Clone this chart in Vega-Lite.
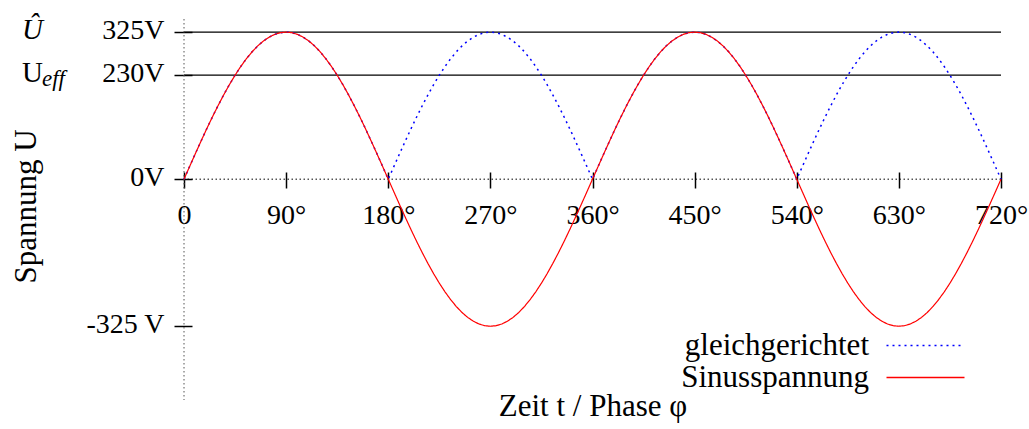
{
  "$schema": "https://vega.github.io/schema/vega-lite/v6.json",
  "autosize": {"type": "none"},
  "padding": {"left": 184, "top": 19, "right": 28, "bottom": 29},
  "width": 817,
  "height": 381,
  "background": "white",
  "config": {"view": {"stroke": null}, "font": "Liberation Serif"},
  "datasets": {
    "wave": [
{"p":0,"s":0,"g":0},{"p":5,"s":28.3,"g":28.3},{"p":10,"s":56.4,"g":56.4},{"p":15,"s":84.1,"g":84.1},{"p":20,"s":111.2,"g":111.2},{"p":25,"s":137.4,"g":137.4},{"p":30,"s":162.5,"g":162.5},{"p":35,"s":186.4,"g":186.4},{"p":40,"s":208.9,"g":208.9},{"p":45,"s":229.8,"g":229.8},{"p":50,"s":249,"g":249},{"p":55,"s":266.2,"g":266.2},{"p":60,"s":281.5,"g":281.5},{"p":65,"s":294.6,"g":294.6},{"p":70,"s":305.4,"g":305.4},{"p":75,"s":313.9,"g":313.9},{"p":80,"s":320.1,"g":320.1},{"p":85,"s":323.8,"g":323.8},{"p":90,"s":325,"g":325},{"p":95,"s":323.8,"g":323.8},{"p":100,"s":320.1,"g":320.1},{"p":105,"s":313.9,"g":313.9},{"p":110,"s":305.4,"g":305.4},{"p":115,"s":294.6,"g":294.6},{"p":120,"s":281.5,"g":281.5},{"p":125,"s":266.2,"g":266.2},{"p":130,"s":249,"g":249},{"p":135,"s":229.8,"g":229.8},{"p":140,"s":208.9,"g":208.9},{"p":145,"s":186.4,"g":186.4},{"p":150,"s":162.5,"g":162.5},{"p":155,"s":137.4,"g":137.4},{"p":160,"s":111.2,"g":111.2},{"p":165,"s":84.1,"g":84.1},{"p":170,"s":56.4,"g":56.4},{"p":175,"s":28.3,"g":28.3},
{"p":180,"s":0,"g":0},{"p":185,"s":-28.3,"g":28.3},{"p":190,"s":-56.4,"g":56.4},{"p":195,"s":-84.1,"g":84.1},{"p":200,"s":-111.2,"g":111.2},{"p":205,"s":-137.4,"g":137.4},{"p":210,"s":-162.5,"g":162.5},{"p":215,"s":-186.4,"g":186.4},{"p":220,"s":-208.9,"g":208.9},{"p":225,"s":-229.8,"g":229.8},{"p":230,"s":-249,"g":249},{"p":235,"s":-266.2,"g":266.2},{"p":240,"s":-281.5,"g":281.5},{"p":245,"s":-294.6,"g":294.6},{"p":250,"s":-305.4,"g":305.4},{"p":255,"s":-313.9,"g":313.9},{"p":260,"s":-320.1,"g":320.1},{"p":265,"s":-323.8,"g":323.8},{"p":270,"s":-325,"g":325},{"p":275,"s":-323.8,"g":323.8},{"p":280,"s":-320.1,"g":320.1},{"p":285,"s":-313.9,"g":313.9},{"p":290,"s":-305.4,"g":305.4},{"p":295,"s":-294.6,"g":294.6},{"p":300,"s":-281.5,"g":281.5},{"p":305,"s":-266.2,"g":266.2},{"p":310,"s":-249,"g":249},{"p":315,"s":-229.8,"g":229.8},{"p":320,"s":-208.9,"g":208.9},{"p":325,"s":-186.4,"g":186.4},{"p":330,"s":-162.5,"g":162.5},{"p":335,"s":-137.4,"g":137.4},{"p":340,"s":-111.2,"g":111.2},{"p":345,"s":-84.1,"g":84.1},{"p":350,"s":-56.4,"g":56.4},{"p":355,"s":-28.3,"g":28.3},
{"p":360,"s":0,"g":0},{"p":365,"s":28.3,"g":28.3},{"p":370,"s":56.4,"g":56.4},{"p":375,"s":84.1,"g":84.1},{"p":380,"s":111.2,"g":111.2},{"p":385,"s":137.4,"g":137.4},{"p":390,"s":162.5,"g":162.5},{"p":395,"s":186.4,"g":186.4},{"p":400,"s":208.9,"g":208.9},{"p":405,"s":229.8,"g":229.8},{"p":410,"s":249,"g":249},{"p":415,"s":266.2,"g":266.2},{"p":420,"s":281.5,"g":281.5},{"p":425,"s":294.6,"g":294.6},{"p":430,"s":305.4,"g":305.4},{"p":435,"s":313.9,"g":313.9},{"p":440,"s":320.1,"g":320.1},{"p":445,"s":323.8,"g":323.8},{"p":450,"s":325,"g":325},{"p":455,"s":323.8,"g":323.8},{"p":460,"s":320.1,"g":320.1},{"p":465,"s":313.9,"g":313.9},{"p":470,"s":305.4,"g":305.4},{"p":475,"s":294.6,"g":294.6},{"p":480,"s":281.5,"g":281.5},{"p":485,"s":266.2,"g":266.2},{"p":490,"s":249,"g":249},{"p":495,"s":229.8,"g":229.8},{"p":500,"s":208.9,"g":208.9},{"p":505,"s":186.4,"g":186.4},{"p":510,"s":162.5,"g":162.5},{"p":515,"s":137.4,"g":137.4},{"p":520,"s":111.2,"g":111.2},{"p":525,"s":84.1,"g":84.1},{"p":530,"s":56.4,"g":56.4},{"p":535,"s":28.3,"g":28.3},
{"p":540,"s":0,"g":0},{"p":545,"s":-28.3,"g":28.3},{"p":550,"s":-56.4,"g":56.4},{"p":555,"s":-84.1,"g":84.1},{"p":560,"s":-111.2,"g":111.2},{"p":565,"s":-137.4,"g":137.4},{"p":570,"s":-162.5,"g":162.5},{"p":575,"s":-186.4,"g":186.4},{"p":580,"s":-208.9,"g":208.9},{"p":585,"s":-229.8,"g":229.8},{"p":590,"s":-249,"g":249},{"p":595,"s":-266.2,"g":266.2},{"p":600,"s":-281.5,"g":281.5},{"p":605,"s":-294.6,"g":294.6},{"p":610,"s":-305.4,"g":305.4},{"p":615,"s":-313.9,"g":313.9},{"p":620,"s":-320.1,"g":320.1},{"p":625,"s":-323.8,"g":323.8},{"p":630,"s":-325,"g":325},{"p":635,"s":-323.8,"g":323.8},{"p":640,"s":-320.1,"g":320.1},{"p":645,"s":-313.9,"g":313.9},{"p":650,"s":-305.4,"g":305.4},{"p":655,"s":-294.6,"g":294.6},{"p":660,"s":-281.5,"g":281.5},{"p":665,"s":-266.2,"g":266.2},{"p":670,"s":-249,"g":249},{"p":675,"s":-229.8,"g":229.8},{"p":680,"s":-208.9,"g":208.9},{"p":685,"s":-186.4,"g":186.4},{"p":690,"s":-162.5,"g":162.5},{"p":695,"s":-137.4,"g":137.4},{"p":700,"s":-111.2,"g":111.2},{"p":705,"s":-84.1,"g":84.1},{"p":710,"s":-56.4,"g":56.4},{"p":715,"s":-28.3,"g":28.3},
{"p":720,"s":0,"g":0}
    ]
  },
  "layer": [
    {
      "data": {"values": [{"v": 325}, {"v": 230}]},
      "mark": {"type": "rule", "color": "black", "strokeWidth": 1.3},
      "encoding": {
        "y": {"field": "v", "type": "quantitative",
              "scale": {"domain": [-488, 354], "nice": false, "zero": false},
              "axis": {
                "orient": "left", "offset": -8, "domain": false, "grid": false,
                "ticks": true, "tickSize": 18, "tickWidth": 1.5, "tickColor": "black",
                "values": [325, 230, 0, -325],
                "labelExpr": "datum.value == -325 ? '-325 V' : datum.value + 'V'",
                "labelFont": "Liberation Serif", "labelFontSize": 28, "labelColor": "black",
                "labelPadding": 10, "labelOffset": -2, "labelOverlap": false,
                "title": "Spannung U", "titleFont": "Liberation Serif", "titleFontSize": 31,
                "titleFontWeight": "normal", "titleColor": "black",
                "titleX": -166, "titleY": 187, "titleBaseline": "middle", "titleAngle": -90
              }}
      }
    },
    {
      "data": {"values": [{"v": 0}]},
      "mark": {"type": "rule", "color": "black", "strokeWidth": 1, "strokeDash": [1.5, 2.5]},
      "encoding": {"y": {"field": "v", "type": "quantitative"}}
    },
    {
      "data": {"values": [{"p": 0}]},
      "mark": {"type": "rule", "color": "#555555", "strokeWidth": 1, "strokeDash": [1.5, 2.5]},
      "encoding": {
        "x": {"field": "p", "type": "quantitative",
              "scale": {"domain": [0, 720], "nice": false, "zero": false},
              "axis": {
                "orient": "bottom", "offset": -228, "domain": false, "grid": false,
                "ticks": true, "tickSize": 16, "tickWidth": 1.5, "tickColor": "black",
                "values": [0, 90, 180, 270, 360, 450, 540, 630, 720],
                "labelExpr": "datum.value == 0 ? '0' : datum.value + '°'",
                "labelFont": "Liberation Serif", "labelFontSize": 28, "labelColor": "black",
                "labelPadding": 13, "labelFlush": false, "labelOverlap": false,
                "title": "Zeit t / Phase φ", "titleFont": "Liberation Serif", "titleFontSize": 31,
                "titleFontWeight": "normal", "titleColor": "black",
                "titleY": 243, "titleBaseline": "alphabetic"
              }}
      }
    },
    {
      "data": {"name": "wave"},
      "transform": [{"fold": ["g", "s"], "as": ["serie", "u"]}, {"filter": "datum.serie == 'g'"}],
      "mark": {"type": "line", "strokeWidth": 1.5},
      "encoding": {
        "x": {"field": "p", "type": "quantitative"},
        "y": {"field": "u", "type": "quantitative"},
        "color": {"field": "serie", "type": "nominal",
                  "scale": {"domain": ["g", "s"], "range": ["#0000ff", "#ff0000"]},
                  "legend": {"orient": "none", "legendX": 726, "legendY": 311, "title": null,
                             "symbolType": "M-3.9,0H3.9", "symbolSize": 400, "symbolStrokeWidth": 1.4,
                             "labelFont": "Liberation Serif", "labelFontSize": 31, "labelColor": "black",
                             "labelAlign": "right", "labelOffset": -72, "labelLimit": 500,
                             "rowPadding": 0, "padding": 0,
                             "labelExpr": "datum.label == 'g' ? 'gleichgerichtet' : 'Sinusspannung'"}},
        "strokeDash": {"field": "serie", "type": "nominal",
                       "scale": {"domain": ["g", "s"], "range": [[2, 4], [1, 0]]}}
      }
    },
    {
      "data": {"name": "wave"},
      "transform": [{"fold": ["g", "s"], "as": ["serie", "u"]}, {"filter": "datum.serie == 's'"}],
      "mark": {"type": "line", "strokeWidth": 1.2},
      "encoding": {
        "x": {"field": "p", "type": "quantitative"},
        "y": {"field": "u", "type": "quantitative"},
        "color": {"field": "serie", "type": "nominal",
                  "scale": {"domain": ["g", "s"], "range": ["#0000ff", "#ff0000"]}},
        "strokeDash": {"field": "serie", "type": "nominal",
                       "scale": {"domain": ["g", "s"], "range": [[2, 4], [1, 0]]}}
      }
    },
    {
      "data": {"values": [{"p": 0, "v": 325, "t": "Û"}]},
      "mark": {"type": "text", "font": "Liberation Serif", "fontSize": 29, "fontStyle": "italic",
               "align": "left", "baseline": "alphabetic", "dx": -162, "dy": 7, "color": "black"},
      "encoding": {"x": {"field": "p", "type": "quantitative"}, "y": {"field": "v", "type": "quantitative"}, "text": {"field": "t"}}
    },
    {
      "data": {"values": [{"p": 0, "v": 230, "t": "U"}]},
      "mark": {"type": "text", "font": "Liberation Serif", "fontSize": 29,
               "align": "left", "baseline": "alphabetic", "dx": -162, "dy": 7, "color": "black"},
      "encoding": {"x": {"field": "p", "type": "quantitative"}, "y": {"field": "v", "type": "quantitative"}, "text": {"field": "t"}}
    },
    {
      "data": {"values": [{"p": 0, "v": 230, "t": "eff"}]},
      "mark": {"type": "text", "font": "Liberation Serif", "fontSize": 23, "fontStyle": "italic",
               "align": "left", "baseline": "alphabetic", "dx": -142, "dy": 11, "color": "black"},
      "encoding": {"x": {"field": "p", "type": "quantitative"}, "y": {"field": "v", "type": "quantitative"}, "text": {"field": "t"}}
    }
  ]
}
